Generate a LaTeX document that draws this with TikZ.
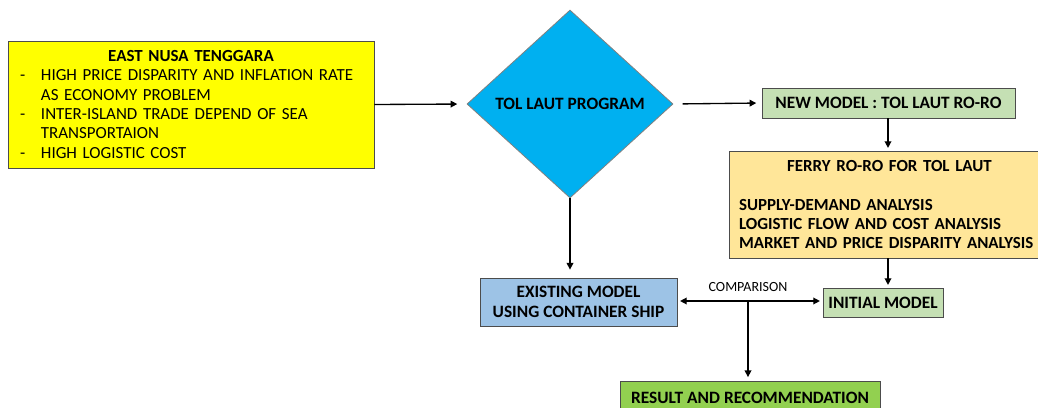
\documentclass[tikz,border=0pt]{standalone}
\usepackage{fontspec}
\setmainfont{Carlito}
\usetikzlibrary{arrows.meta, shapes.geometric, calc}
\definecolor{nusayellow}{HTML}{FFFF00}
\definecolor{tolblue}{HTML}{00B0F0}
\definecolor{modelgreen}{HTML}{C5E0B4}
\definecolor{ferryorange}{HTML}{FFE699}
\definecolor{existblue}{HTML}{9DC3E6}
\definecolor{resultgreen}{HTML}{92D050}

\begin{document}
\begin{tikzpicture}[x=0.75pt, y=-0.75pt,
    box/.style={rectangle, draw=black!70, line width=0.6pt, inner sep=0pt, align=center, font=\fontsize{13}{14.6}\selectfont\bfseries},
    arr/.style={-{Triangle[length=5pt,width=5pt]}, line width=1pt}]
    \useasboundingbox (0,0) rectangle (1038,407);
    % boxes
    \node[box, fill=nusayellow, minimum width=274.5pt, minimum height=95.25pt, inner xsep=9pt,
          text width=256.5pt, align=left, font=\fontsize{12.7}{14.5}\selectfont] (nusa) at (191,104.5)
        {\makebox[\linewidth]{\bfseries EAST NUSA TENGGARA}\\
         \mbox{\makebox[15.75pt][l]{-}HIGH PRICE DISPARITY AND INFLATION RATE}\\
         \mbox{\hspace*{15.75pt}AS ECONOMY PROBLEM}\\
         \mbox{\makebox[15.75pt][l]{-}INTER-ISLAND TRADE DEPEND OF SEA}\\
         \mbox{\hspace*{15.75pt}TRANSPORTAION}\\
         \mbox{\makebox[15.75pt][l]{-}HIGH LOGISTIC COST}};
    \node[box, diamond, fill=tolblue, draw=black!50, minimum width=154.5pt, minimum height=141pt] (tol) at (570,104) {TOL LAUT PROGRAM};
    \node[box, fill=modelgreen, minimum width=189.75pt, minimum height=22.5pt] (newm) at (888.5,103) {NEW MODEL : TOL LAUT RO-RO};
    \node[box, fill=ferryorange, minimum width=240.75pt, minimum height=80.25pt, inner xsep=7.5pt,
          text width=225.75pt, align=left, font=\fontsize{12.7}{14.3}\selectfont\bfseries] (ferry) at (889.5,204.5)
        {\makebox[\linewidth]{FERRY RO-RO FOR TOL LAUT}\\[14.6pt]
         SUPPLY-DEMAND ANALYSIS\\
         LOGISTIC FLOW AND COST ANALYSIS\\
         \mbox{MARKET AND PRICE DISPARITY ANALYSIS}};
    \node[box, fill=modelgreen, minimum width=90pt, minimum height=21.75pt] (init) at (883,302.5) {INITIAL MODEL};
    \node[box, fill=existblue, minimum width=147.75pt, minimum height=36pt] (exist) at (578.5,302) {EXISTING MODEL\\USING CONTAINER SHIP};
    \node[box, fill=resultgreen, minimum width=195pt, minimum height=24.75pt] (result) at (750,398) {RESULT AND RECOMMENDATION};
    % arrows
    \draw[arr, shorten >=7pt] (nusa.east) -- (tol.west);
    \draw[arr, shorten <=7pt, shorten >=4pt] (tol.east) -- (newm.west);
    \draw[arr, shorten >=2pt] (newm.south -| 888,0) -- (ferry.north -| 888,0);
    \draw[arr, shorten >=2pt] (ferry.south -| 888,0) -- (init.north -| 888,0);
    \draw[arr, shorten >=6pt] (tol.south) -- (tol.south |- exist.north);
    \draw[arr, {Triangle[length=5pt,width=5pt]}-{Triangle[length=5pt,width=5pt]}, shorten <=2pt, shorten >=2pt] (exist.east |- 0,301) -- (init.west |- 0,301);
    \coordinate (cmp) at (748,301);
    \node[font=\fontsize{10.5}{12}\selectfont, anchor=south] (cmplabel) at (748,296) {COMPARISON};
    \draw[arr, shorten >=3pt] (cmp) -- (cmp |- result.north);
\end{tikzpicture}
\end{document}
